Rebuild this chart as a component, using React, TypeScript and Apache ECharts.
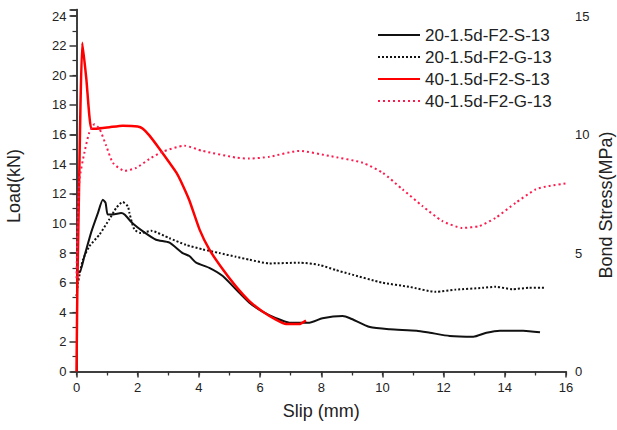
import React, { useEffect, useRef } from "react";
import * as echarts from "echarts";

const seriesNames = [
  "20-1.5d-F2-S-13",
  "20-1.5d-F2-G-13",
  "40-1.5d-F2-S-13",
  "40-1.5d-F2-G-13",
];

const s20S: number[][] = [
  [0, 6.8], [0.1, 6.7], [0.26, 7.8], [0.48, 9.4], [0.7, 10.7], [0.86, 11.6], [0.95, 11.4],
  [1.02, 10.6], [1.19, 10.6], [1.46, 10.7], [1.57, 10.6], [1.84, 10.0], [2.22, 9.4], [2.6, 8.9],
  [3.04, 8.7], [3.47, 8.0], [3.69, 7.8], [3.91, 7.35], [4.34, 7.0], [4.78, 6.45], [5.21, 5.55],
  [5.65, 4.65], [6.08, 4.05], [6.52, 3.6], [6.96, 3.3], [7.61, 3.3], [8.04, 3.6], [8.7, 3.75],
  [8.94, 3.6], [9.59, 3.0], [10.24, 2.85], [11.12, 2.76], [11.55, 2.62], [12.2, 2.4],
  [12.97, 2.35], [13.4, 2.62], [13.84, 2.76], [14.6, 2.76], [15.15, 2.65],
];

const s20G: number[][] = [
  [0, 5.1], [0.05, 6.0], [0.21, 7.55], [0.42, 8.45], [0.75, 9.25], [1.08, 10.3], [1.3, 11.05],
  [1.51, 11.45], [1.68, 11.15], [1.73, 10.7], [1.89, 9.6], [2.11, 9.35], [2.44, 9.5], [3.04, 9.0],
  [3.58, 8.55], [4.12, 8.25], [4.67, 8.0], [5.21, 7.75], [5.65, 7.55], [6.3, 7.3], [7.28, 7.35],
  [7.93, 7.2], [8.48, 6.85], [8.91, 6.6], [10.0, 6.0], [10.87, 5.72], [11.74, 5.38], [12.4, 5.53],
  [13.27, 5.65], [13.7, 5.72], [14.25, 5.56], [14.79, 5.65], [15.28, 5.65],
];

const s40S: number[][] = [
  [0, 0], [0.03, 6], [0.08, 12], [0.13, 18], [0.19, 22.2], [0.32, 19.8], [0.48, 16.4],
  [0.64, 16.4], [1.08, 16.5], [1.51, 16.6], [2.0, 16.55], [2.17, 16.4], [2.38, 15.95],
  [2.71, 15.05], [3.04, 14.1], [3.26, 13.45], [3.4, 12.9], [3.69, 11.55], [4.02, 9.6],
  [4.34, 8.25], [4.78, 6.9], [5.21, 5.75], [5.65, 4.75], [6.08, 4.05], [6.52, 3.5],
  [6.85, 3.2], [7.28, 3.2], [7.5, 3.45],
];

const s40G: number[][] = [
  [0, 6.3], [0.03, 9.5], [0.1, 13.0], [0.26, 14.8], [0.42, 16.15], [0.59, 16.7], [0.75, 16.4],
  [0.97, 15.25], [1.19, 14.1], [1.57, 13.55], [1.95, 13.75], [2.38, 14.35], [2.82, 14.85],
  [3.53, 15.25], [4.12, 14.9], [5.21, 14.45], [5.65, 14.38], [6.3, 14.5], [7.28, 14.9],
  [8.26, 14.56], [9.35, 14.1], [10.0, 13.43], [10.66, 12.3], [11.31, 11.17], [11.96, 10.16],
  [12.61, 9.7], [13.16, 9.82], [13.7, 10.38], [14.36, 11.4], [15.01, 12.3], [15.44, 12.53],
  [16.0, 12.7],
];

const FONT = "'Liberation Sans', Arial, sans-serif";
const AX = "#333";

export default function App() {
  const ref = useRef<HTMLDivElement>(null);
  useEffect(() => {
    if (!ref.current) return;
    const chart = echarts.init(ref.current, undefined, { renderer: "svg" });
    const lbl = { color: "#222", fontSize: 13, fontFamily: FONT };
    chart.setOption({
      animation: false,
      backgroundColor: "#fff",
      grid: { left: 76.5, right: 51, top: 9.5, bottom: 58.5, containLabel: false },
      legend: {
        orient: "vertical",
        left: 372,
        top: 21,
        itemWidth: 42,
        itemHeight: 14,
        itemGap: 4,
        itemStyle: { opacity: 0 },
        textStyle: { fontSize: 17, fontFamily: FONT, color: "#222", lineHeight: 18 },
        data: seriesNames,
      },
      graphic: [
        {
          type: "text",
          x: 14,
          y: 186,
          rotation: Math.PI / 2,
          style: {
            text: "Load(kN)",
            fontSize: 18,
            fontFamily: FONT,
            fill: "#222",
            textAlign: "center",
            textVerticalAlign: "middle",
          },
        },
        {
          type: "text",
          x: 606,
          y: 205,
          rotation: Math.PI / 2,
          style: {
            text: "Bond Stress(MPa)",
            fontSize: 18,
            fontFamily: FONT,
            fill: "#222",
            textAlign: "center",
            textVerticalAlign: "middle",
          },
        },
      ],
      xAxis: [
        {
          type: "value",
          min: 0,
          max: 16,
          interval: 2,
          position: "bottom",
          name: "Slip (mm)",
          nameLocation: "middle",
          nameGap: 30,
          nameTextStyle: { fontSize: 18, fontFamily: FONT, color: "#222" },
          axisLine: { show: true, lineStyle: { color: AX, width: 1.5 } },
          axisTick: { show: true, inside: false, length: 6, lineStyle: { color: AX, width: 1.5 } },
          minorTick: { show: true, splitNumber: 2, length: 3, lineStyle: { color: AX, width: 1.2 } },
          axisLabel: { ...lbl, margin: 9 },
          splitLine: { show: false },
          minorSplitLine: { show: false },
        },
        {
          type: "value",
          min: 0,
          max: 16,
          interval: 1,
          position: "top",
          axisLine: { show: true, lineStyle: { color: AX, width: 1.5 } },
          axisTick: { show: true, inside: true, length: 4, lineStyle: { color: AX, width: 1.2 } },
          axisLabel: { show: false },
          splitLine: { show: false },
        },
      ],
      yAxis: [
        {
          type: "value",
          min: 0,
          max: 24.45,
          interval: 2,
          position: "left",
          axisLine: { show: true, lineStyle: { color: AX, width: 1.5 } },
          axisTick: { show: true, inside: false, length: 7, lineStyle: { color: AX, width: 1.5 } },
          minorTick: { show: true, splitNumber: 2, length: 4, lineStyle: { color: AX, width: 1.2 } },
          axisLabel: { ...lbl, margin: 10, showMaxLabel: false },
          splitLine: { show: false },
          minorSplitLine: { show: false },
        },
        {
          type: "value",
          min: 0,
          max: 15.28,
          interval: 5,
          position: "right",
          axisLine: { show: true, lineStyle: { color: AX, width: 1.5 } },
          axisTick: { show: true, inside: true, length: 6, lineStyle: { color: AX, width: 1.5 } },
          minorTick: { show: true, splitNumber: 2, length: 4, lineStyle: { color: AX, width: 1.2 } },
          axisLabel: { ...lbl, margin: 9, showMaxLabel: false },
          splitLine: { show: false },
          minorSplitLine: { show: false },
        },
      ],
      series: [
        {
          name: seriesNames[0],
          type: "line",
          data: s20S,
          showSymbol: false,
          symbol: "none",
          smooth: 0.2,
          lineStyle: { color: "#111", width: 2, type: "solid" },
          itemStyle: { color: "#111" },
        },
        {
          name: seriesNames[1],
          type: "line",
          data: s20G,
          showSymbol: false,
          symbol: "none",
          smooth: 0.2,
          lineStyle: { color: "#111", width: 2, type: [2, 2] },
          itemStyle: { color: "#111" },
        },
        {
          name: seriesNames[2],
          type: "line",
          data: s40S,
          showSymbol: false,
          symbol: "none",
          smooth: 0.15,
          lineStyle: { color: "#ff0000", width: 2.5, type: "solid" },
          itemStyle: { color: "#ff0000" },
        },
        {
          name: seriesNames[3],
          type: "line",
          data: s40G,
          showSymbol: false,
          symbol: "none",
          smooth: 0.2,
          lineStyle: { color: "#ff1a4d", width: 2, type: [2, 3] },
          itemStyle: { color: "#ff1a4d" },
        },
      ],
    });
    return () => chart.dispose();
  }, []);
  return <div ref={ref} style={{ width: 617, height: 430, position: "absolute", left: 0, top: 0 }} />;
}
